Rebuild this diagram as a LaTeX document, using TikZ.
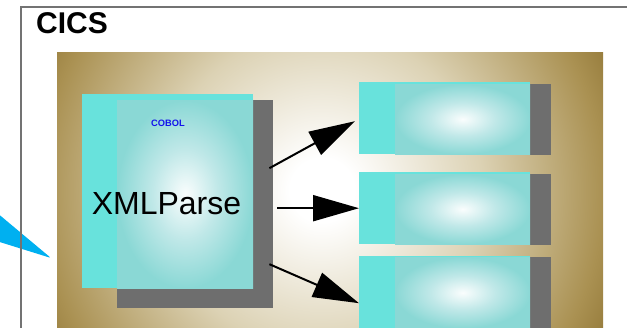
\documentclass[tikz,border=0pt]{standalone}
\usepackage{fontspec}
\setmainfont{Liberation Sans}
\usetikzlibrary{arrows.meta,positioning,calc}

\definecolor{bgmid}{RGB}{220,210,180}
\definecolor{bgedge}{RGB}{170,145,82}
\definecolor{bgdark}{RGB}{152,126,62}
\definecolor{boxcyan}{RGB}{104,226,220}
\definecolor{glowmid}{RGB}{192,232,232}
\definecolor{glowedge}{RGB}{138,216,213}
\definecolor{boxshadow}{RGB}{110,110,110}
\definecolor{pointerblue}{RGB}{0,176,240}
\definecolor{framegray}{RGB}{115,115,115}
\definecolor{cobolblue}{RGB}{20,20,235}

\pgfdeclareradialshading{bgglow}{\pgfpoint{0bp}{0bp}}{color(0bp)=(white); color(2.5bp)=(white); color(12.5bp)=(bgmid); color(22bp)=(bgedge); color(24.5bp)=(bgdark); color(50bp)=(bgdark)}
\pgfdeclareradialshading{boxglow}{\pgfpoint{0bp}{0bp}}{color(0bp)=(white!92!glowmid); color(12bp)=(glowmid); color(25bp)=(glowedge); color(50bp)=(glowedge)}

\begin{document}
\begin{tikzpicture}[x=1pt,y=-1pt,
    shadowbox/.style={fill=boxshadow, inner sep=0pt, anchor=north west},
    cyanbox/.style={fill=boxcyan, inner sep=0pt, anchor=north west},
    glowbox/.style={shade, shading=boxglow, inner sep=0pt, anchor=north west},
    fatarrow/.style={-{Triangle[length=46pt,width=26pt]}, line width=2pt}]
    \useasboundingbox (0,0) rectangle (627,328);
    % background
    \begin{scope}
        \clip (57,53) rectangle (603,330);
        \shade[shading=bgglow] (322,190) circle (320);
    \end{scope}
    \fill[pointerblue, rounded corners=2pt] (-10,207) -- (51,258) -- (-10,239) -- cycle;
    \draw[framegray, line width=1.3pt] (21,330) -- (21,7) -- (630,7);
    \node[anchor=base west, inner sep=0pt, font=\bfseries\fontsize{30}{36}\selectfont] (cics) at (36,34) {CICS};

    % parser
    \node[shadowbox, minimum width=156pt, minimum height=208pt] (xmlshadow) at (117,100) {};
    \node[cyanbox, minimum width=171pt, minimum height=194pt] (xml) at (82,94) {};
    \node[glowbox, minimum width=136pt, minimum height=188pt] (xmlglow) at (117,100) {};
    \node[anchor=base, inner sep=0pt, text=cobolblue, font=\bfseries\fontsize{9.3}{11}\selectfont] (cobol) at (168,127) {COBOL};
    \node[anchor=base, inner sep=0pt, font=\fontsize{32}{38}\selectfont] (xmllabel) at (166.5,215) {XMLParse};

    % targets
    \node[shadowbox, minimum width=156pt, minimum height=71pt] (shadow1) at (395,84) {};
    \node[cyanbox, minimum width=171pt, minimum height=72pt] (box1) at (359,82) {};
    \node[glowbox, minimum width=135pt, minimum height=70pt] (glow1) at (395,84) {};
    \node[shadowbox, minimum width=156pt, minimum height=71pt] (shadow2) at (395,174) {};
    \node[cyanbox, minimum width=171pt, minimum height=72pt] (box2) at (359,172) {};
    \node[glowbox, minimum width=135pt, minimum height=70pt] (glow2) at (395,174) {};
    \node[shadowbox, minimum width=156pt, minimum height=73pt] (shadow3) at (395,257) {};
    \node[cyanbox, minimum width=171pt, minimum height=72pt] (box3) at (359,256) {};
    \node[glowbox, minimum width=135pt, minimum height=71pt] (glow3) at (395,257) {};

    \draw[fatarrow] ([shift={(-4,-36)}]xmlshadow.east) -- ([shift={(-4,3)}]box1.west);
    \draw[fatarrow] ($(xmlshadow.east |- box2.west)+(4,0)$) -- (box2.west);
    \draw[fatarrow] ([shift={(-4,60)}]xmlshadow.east) -- ([shift={(0,11)}]box3.west);
\end{tikzpicture}
\end{document}
